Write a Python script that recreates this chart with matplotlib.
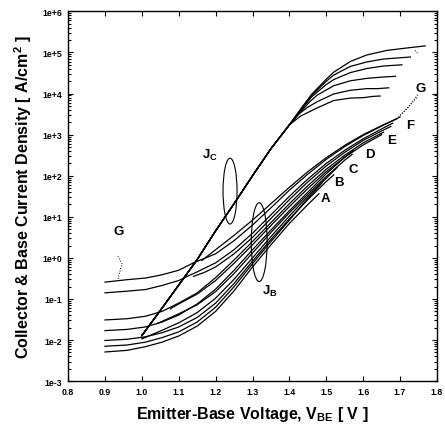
import matplotlib
matplotlib.use("Agg")
import numpy as np
import matplotlib.pyplot as plt
from matplotlib.patches import Ellipse
from matplotlib.ticker import FixedLocator, LogLocator, NullFormatter

plt.rcParams['font.family'] = ['Liberation Sans', 'DejaVu Sans']
plt.rcParams['font.weight'] = 'bold'
plt.rcParams['mathtext.fontset'] = 'custom'
plt.rcParams['mathtext.rm'] = 'Liberation Sans:bold'
plt.rcParams['mathtext.it'] = 'Liberation Sans:bold'
plt.rcParams['mathtext.bf'] = 'Liberation Sans:bold'

#==============================================================
# data (log10 of current density)
#==============================================================
# collector current: common trunk, then 6 curves splitting
jc_trunk_v = [1.00, 1.05, 1.10, 1.15, 1.20, 1.25, 1.30, 1.35, 1.40]
jc_trunk_log = [-1.89, -1.28, -0.66, -0.04, 0.66, 1.32, 2.00, 2.66, 3.24]

jc1_v = [1.43, 1.46, 1.50, 1.52, 1.565, 1.61, 1.664, 1.719, 1.768]
jc1_log = [3.62, 3.98, 4.35, 4.52, 4.78, 4.94, 5.05, 5.11, 5.16]
jc2_v = [1.43, 1.46, 1.50, 1.52, 1.565, 1.61, 1.655, 1.728]
jc2_log = [3.60, 3.95, 4.30, 4.45, 4.66, 4.77, 4.84, 4.89]
jc3_v = [1.43, 1.46, 1.50, 1.52, 1.565, 1.61, 1.655, 1.705]
jc3_log = [3.58, 3.92, 4.22, 4.34, 4.51, 4.61, 4.67, 4.70]
jc4_v = [1.43, 1.455, 1.475, 1.52, 1.565, 1.61, 1.65, 1.687]
jc4_log = [3.55, 3.80, 3.96, 4.19, 4.31, 4.37, 4.40, 4.42]
jc5_v = [1.425, 1.45, 1.475, 1.52, 1.565, 1.61, 1.64, 1.669]
jc5_log = [3.50, 3.67, 3.80, 3.99, 4.08, 4.12, 4.12, 4.14]
jc6_v = [1.43, 1.475, 1.52, 1.565, 1.60, 1.625, 1.646]
jc6_log = [3.45, 3.65, 3.83, 3.89, 3.90, 3.93, 3.94]

# base current: curves from 0.9 V
jb1_v = [0.90, 0.96, 1.01, 1.055, 1.10, 1.14, 1.20, 1.25, 1.30, 1.35, 1.40, 1.45, 1.50, 1.55, 1.60, 1.65, 1.70]
jb1_log = [-0.59, -0.53, -0.49, -0.41, -0.30, -0.12, 0.10, 0.42, 0.80, 1.22, 1.65, 2.04, 2.40, 2.71, 2.98, 3.21, 3.43]
jb2_v = [0.90, 0.96, 1.01, 1.055, 1.10, 1.13, 1.15, 1.20, 1.25, 1.30, 1.35, 1.40, 1.45, 1.50, 1.55, 1.60, 1.65, 1.68]
jb2_log = [-0.85, -0.81, -0.77, -0.67, -0.55, -0.42, -0.34, -0.12, 0.20, 0.60, 1.05, 1.50, 1.92, 2.30, 2.62, 2.90, 3.14, 3.28]
jb3_v = [0.90, 0.96, 1.01, 1.055, 1.10, 1.15, 1.20, 1.25, 1.30, 1.35, 1.40, 1.45, 1.50, 1.55, 1.60, 1.655]
jb3_log = [-1.51, -1.48, -1.42, -1.30, -1.10, -0.85, -0.48, -0.05, 0.40, 0.86, 1.32, 1.76, 2.16, 2.50, 2.80, 3.06]
jb4_v = [0.90, 0.96, 1.01, 1.055, 1.10, 1.15, 1.20, 1.25, 1.30, 1.35, 1.40, 1.45, 1.50, 1.55, 1.574]
jb4_log = [-1.77, -1.74, -1.68, -1.56, -1.39, -1.12, -0.76, -0.30, 0.20, 0.68, 1.15, 1.60, 2.05, 2.45, 2.62]
jb5_v = [0.90, 0.96, 1.01, 1.055, 1.10, 1.15, 1.20, 1.25, 1.30, 1.35, 1.40, 1.45, 1.50, 1.52]
jb5_log = [-2.01, -1.98, -1.92, -1.82, -1.68, -1.45, -1.10, -0.62, -0.08, 0.45, 0.95, 1.42, 1.86, 2.02]
jb6_v = [0.90, 0.96, 1.01, 1.055, 1.10, 1.15, 1.20, 1.25, 1.30, 1.35, 1.40, 1.45, 1.488]
jb6_log = [-2.15, -2.12, -2.05, -1.94, -1.80, -1.56, -1.20, -0.70, -0.14, 0.40, 0.92, 1.45, 1.82]
jb7_v = [0.90, 0.96, 1.01, 1.055, 1.10, 1.15, 1.20, 1.25, 1.30, 1.35, 1.40, 1.45, 1.48]
jb7_log = [-2.29, -2.25, -2.16, -2.05, -1.90, -1.66, -1.30, -0.80, -0.22, 0.32, 0.84, 1.30, 1.56]

# base current: curves that begin part way
jbs1_v = [1.163, 1.20, 1.25, 1.30, 1.35, 1.40, 1.45, 1.50, 1.55, 1.60, 1.65, 1.69]
jbs1_log = [-0.06, 0.20, 0.55, 0.92, 1.32, 1.72, 2.10, 2.44, 2.74, 3.00, 3.22, 3.38]
jbs2_v = [1.14, 1.17, 1.20, 1.25, 1.30, 1.35, 1.40, 1.45, 1.50, 1.55, 1.60, 1.65, 1.675]
jbs2_log = [-0.45, -0.35, -0.22, 0.10, 0.50, 0.96, 1.42, 1.85, 2.24, 2.57, 2.86, 3.09, 3.20]
jbs3_v = [1.077, 1.10, 1.15, 1.20, 1.25, 1.30, 1.35, 1.40, 1.45, 1.50, 1.55, 1.60, 1.65]
jbs3_log = [-1.24, -1.12, -0.88, -0.55, -0.13, 0.32, 0.79, 1.25, 1.69, 2.10, 2.45, 2.75, 3.00]
jbs4_v = [1.041, 1.10, 1.15, 1.20, 1.25, 1.30, 1.35, 1.40, 1.45, 1.50, 1.55, 1.57]
jbs4_log = [-1.60, -1.36, -1.14, -0.82, -0.38, 0.12, 0.62, 1.10, 1.55, 1.98, 2.38, 2.52]
jbs5_v = [1.00, 1.05, 1.10, 1.15, 1.20, 1.25, 1.30, 1.35, 1.40, 1.45, 1.50, 1.529]
jbs5_log = [-1.97, -1.78, -1.58, -1.33, -0.98, -0.52, 0.00, 0.52, 1.02, 1.50, 1.94, 2.20]

# device G (dotted)
g_low_v = [0.935, 0.946, 0.937, 0.935]
g_low_log = [0.04, -0.14, -0.44, -0.55]
g_high_v = [1.696, 1.72, 1.75]
g_high_log = [3.43, 3.64, 4.00]
g_high2_v = [1.70, 1.725, 1.745]
g_high2_log = [3.47, 3.70, 3.90]
g_top_v = [1.741, 1.748]
g_top_log = [5.05, 4.97]

curve_labels = ['A', 'B', 'C', 'D', 'E', 'F', 'G']
label_v = [1.497, 1.533, 1.574, 1.617, 1.678, 1.726, 1.757]
label_log = [1.46, 1.85, 2.17, 2.54, 2.88, 3.24, 4.13]

xticks = [0.8, 0.9, 1.0, 1.1, 1.2, 1.3, 1.4, 1.5, 1.6, 1.7, 1.8]
yexp = [-3, -2, -1, 0, 1, 2, 3, 4, 5, 6]
ytick_labels = ['1e-3', '1e-2', '1e-1', '1e+0', '1e+1', '1e+2', '1e+3', '1e+4', '1e+5', '1e+6']

#==============================================================
# plot
#==============================================================
fig = plt.figure(figsize=(4.45, 4.27), dpi=100)
ax = fig.add_axes([0.153, 0.105, 0.829, 0.866])

def draw(v, lg, ls='-', lw=0.9):
    ax.plot(v, 10 ** np.array(lg), color='black', lw=lw, ls=ls)

jc_tails = [(jc1_v, jc1_log), (jc2_v, jc2_log), (jc3_v, jc3_log),
            (jc4_v, jc4_log), (jc5_v, jc5_log), (jc6_v, jc6_log)]
for tv, tl in jc_tails:
    draw(jc_trunk_v + tv, jc_trunk_log + tl)

for v, lg in [(jb1_v, jb1_log), (jb2_v, jb2_log), (jb3_v, jb3_log), (jb4_v, jb4_log),
              (jb5_v, jb5_log), (jb6_v, jb6_log), (jb7_v, jb7_log),
              (jbs1_v, jbs1_log), (jbs2_v, jbs2_log), (jbs3_v, jbs3_log),
              (jbs4_v, jbs4_log), (jbs5_v, jbs5_log)]:
    draw(v, lg)

draw(g_low_v, g_low_log, ls=':', lw=0.7)
draw(g_high_v, g_high_log, ls=':', lw=0.7)
draw(g_high2_v, g_high2_log, ls=':', lw=0.7)
draw(g_top_v, g_top_log, ls=':', lw=0.7)

for lab, v, lg in zip(curve_labels, label_v, label_log):
    ax.text(v, 10 ** lg, lab, fontsize=9.5, fontweight='bold', ha='center', va='center')
ax.text(0.937, 10 ** 0.65, 'G', fontsize=9.5, fontweight='bold', ha='center', va='center')
ax.text(1.185, 10 ** 2.52, r'J$_C$', fontsize=9.5, ha='center', va='center')
ax.text(1.347, 10 ** -0.80, r'J$_B$', fontsize=9.5, ha='center', va='center')

ax.add_patch(Ellipse((0.439, 0.514), 0.038, 0.178, transform=ax.transAxes,
                     fill=False, lw=0.8, color='black'))
ax.add_patch(Ellipse((0.518, 0.376), 0.043, 0.213, transform=ax.transAxes,
                     fill=False, lw=0.8, color='black'))

ax.set_yscale('log')
ax.set_xlim(0.8, 1.8)
ax.set_ylim(1e-3, 1e6)
ax.set_xticks(xticks)
ax.set_xticklabels(['%.1f' % x for x in xticks])
ax.yaxis.set_major_locator(FixedLocator([10.0 ** e for e in yexp]))
ax.set_yticklabels(ytick_labels)
ax.yaxis.set_minor_locator(LogLocator(base=10, subs=np.arange(2, 10), numticks=20))
ax.yaxis.set_minor_formatter(NullFormatter())
ax.tick_params(which='both', direction='in', top=True, right=True, width=0.8)
ax.tick_params(which='major', length=3.5, labelsize=6.3, pad=4)
ax.tick_params(which='minor', length=2)
for lab in ax.get_xticklabels() + ax.get_yticklabels():
    lab.set_fontweight('bold')
for s in ax.spines.values():
    s.set_linewidth(1.0)

ax.set_xlabel(r'Emitter-Base Voltage, V$_{BE}$ [ V ]', fontsize=11.5, fontweight='bold', labelpad=6)
ax.set_ylabel(r'Collector & Base Current Density [ A/cm$^2$ ]', fontsize=11.5, fontweight='bold', labelpad=6)

fig.savefig('out.png', dpi=100)
